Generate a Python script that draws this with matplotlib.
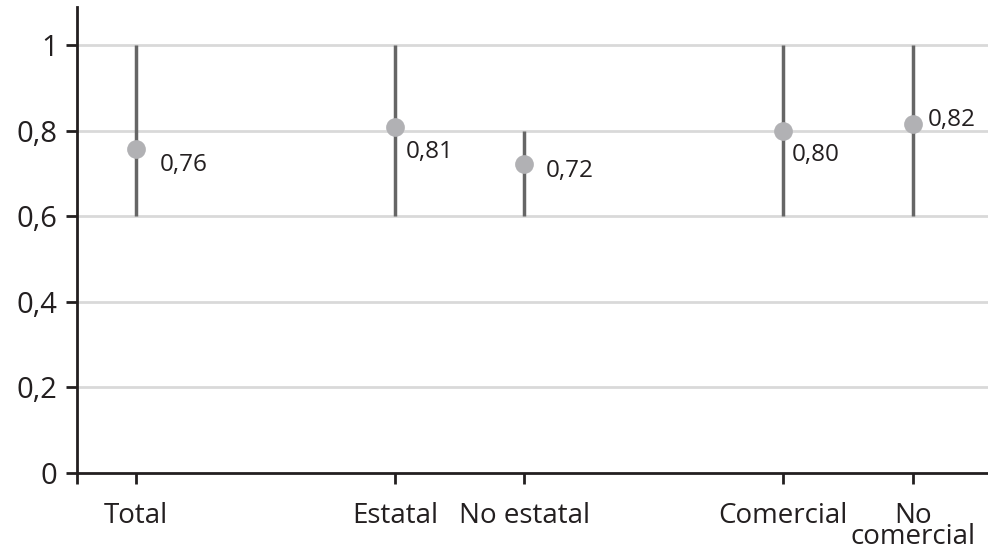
import matplotlib.pyplot as plt
import numpy as np

# data
categories = ['Total', 'Estatal', 'No estatal', 'Comercial', 'No\ncomercial']
positions = [0, 2, 3, 5, 6]
values = [0.757, 0.808, 0.722, 0.799, 0.815]
value_labels = ['0,76', '0,81', '0,72', '0,80', '0,82']
lower = [0.6, 0.6, 0.6, 0.6, 0.6]
upper = [1.0, 1.0, 0.8, 1.0, 1.0]
yticks = [0, 0.2, 0.4, 0.6, 0.8, 1.0]
ytick_labels = ['0', '0,2', '0,4', '0,6', '0,8', '1']

plt.rcParams['font.family'] = ['Open Sans', 'DejaVu Sans']

fig = plt.figure(figsize=(9.88, 5.51), dpi=100)
ax = fig.add_axes([77 / 988, 1 - 473 / 551, 1 - 77 / 988, (473 - 7) / 551])

# grid
for y in yticks[1:]:
    ax.axhline(y, color='#d9d9d9', lw=2, zorder=0)

# ranges and points
ax.vlines(positions, lower, upper, color='#666666', lw=2.5, zorder=2)
ax.plot(positions, values, 'o', ms=13.5, color='#b1b1b4', mec='none', zorder=3)

# label offsets in pixels (dx, dy from the dot centre to the text baseline)
offsets = [(24, -22), (11, -31), (21, -13), (8, -30), (15, -2)]
for x, v, lab, off in zip(positions, values, value_labels, offsets):
    ax.annotate(lab, (x, v), xytext=off, textcoords='offset pixels',
                ha='left', va='baseline', fontsize=17.5, color='#231f20')

ax.set_xlim(-0.456, 6.58)
ax.set_ylim(0, 1.089)
ax.set_yticks(yticks)
ax.set_yticklabels(ytick_labels, fontsize=21, color='#231f20')
ax.set_xticks(positions)
ax.set_xticklabels(categories, fontsize=20, color='#231f20', linespacing=0.66, va='top')
ax.set_xticks([-0.456], minor=True)

for s in ['top', 'right']:
    ax.spines[s].set_visible(False)
for s in ['left', 'bottom']:
    ax.spines[s].set_linewidth(2)
    ax.spines[s].set_color('#231f20')

ax.tick_params(axis='y', length=8, width=2, color='#231f20', pad=6)
ax.tick_params(axis='x', which='both', length=8, width=2, color='#231f20', pad=13)

fig.savefig('out.png', dpi=100)
